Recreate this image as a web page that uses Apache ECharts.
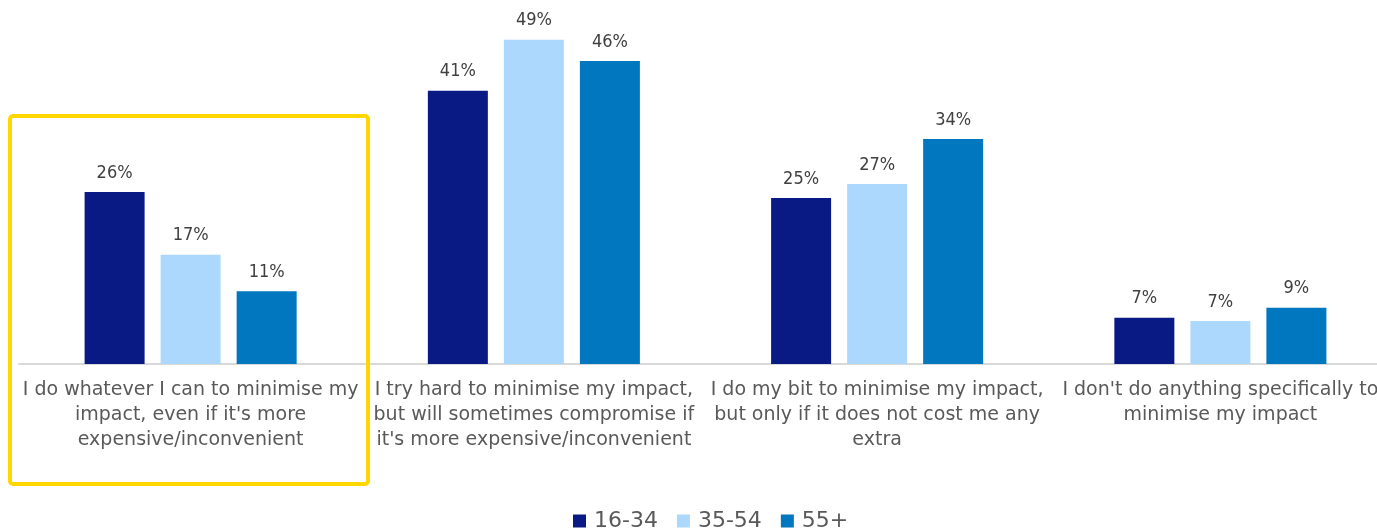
<!DOCTYPE html>
<html><head><meta charset="utf-8">
<script src="https://cdn.jsdelivr.net/npm/echarts@6/dist/echarts.min.js"></script>
<style>html,body{margin:0;padding:0;background:#fff}#c{width:1377px;height:530px}</style>
</head><body><div id="c"></div>
<script>
const categories = [
  "I do whatever I can to minimise my\nimpact, even if it's more\nexpensive/inconvenient",
  "I try hard to minimise my impact,\nbut will sometimes compromise if\nit's more expensive/inconvenient",
  "I do my bit to minimise my impact,\nbut only if it does not cost me any\nextra",
  "I don't do anything specifically to\nminimise my impact"
];
const seriesNames = ["16-34", "35-54", "55+"];
const age1634 = [26.0, 41.3, 25.1, 7.0];
const age3554 = [16.5, 49.0, 27.2, 6.5];
const age55 = [11.0, 45.8, 34.0, 8.5];
const colors = ["#0A1A84", "#ADD8FD", "#0077BF"];
const FONT = "DejaVu Sans";

const chart = echarts.init(document.getElementById('c'));
function mk(name, data, color) {
  return {
    name, type: 'bar', data, barWidth: 60, barGap: '26.7%',
    itemStyle: { color },
    label: { show: true, position: 'top', distance: 10, color: '#404040', fontFamily: "DejaVu Sans Condensed", fontSize: 18,
      formatter: p => Math.round(p.value) + '%' }
  };
}
chart.setOption({
  animation: false,
  grid: { left: 19, width: 1373, top: 0, bottom: 166, containLabel: false, outerBoundsMode: 'none' },
  legend: {
    left: 568, top: 505, itemWidth: 13, itemHeight: 13, itemGap: 19,
    icon: 'rect',
    textStyle: { color: '#595959', fontFamily: FONT, fontSize: 22, padding: [0, 0, 0, 3] },
    data: seriesNames
  },
  xAxis: {
    type: 'category', data: categories,
    axisLine: { lineStyle: { color: '#D9D9D9', width: 2 } },
    axisTick: { show: false },
    axisLabel: { interval: 0, margin: 14, color: '#595959', fontFamily: FONT, fontSize: 19, lineHeight: 25, align: 'center' }
  },
  yAxis: { type: 'value', min: 0, max: 55, show: false, splitLine: { show: false } },
  series: [mk(seriesNames[0], age1634, colors[0]), mk(seriesNames[1], age3554, colors[1]), mk(seriesNames[2], age55, colors[2])],
  graphic: [{
    type: 'rect', shape: { x: 10, y: 116, width: 358, height: 368, r: 3 },
    style: { fill: 'none', stroke: '#FFD700', lineWidth: 4 }, z: 100
  }]
});
</script></body></html>
